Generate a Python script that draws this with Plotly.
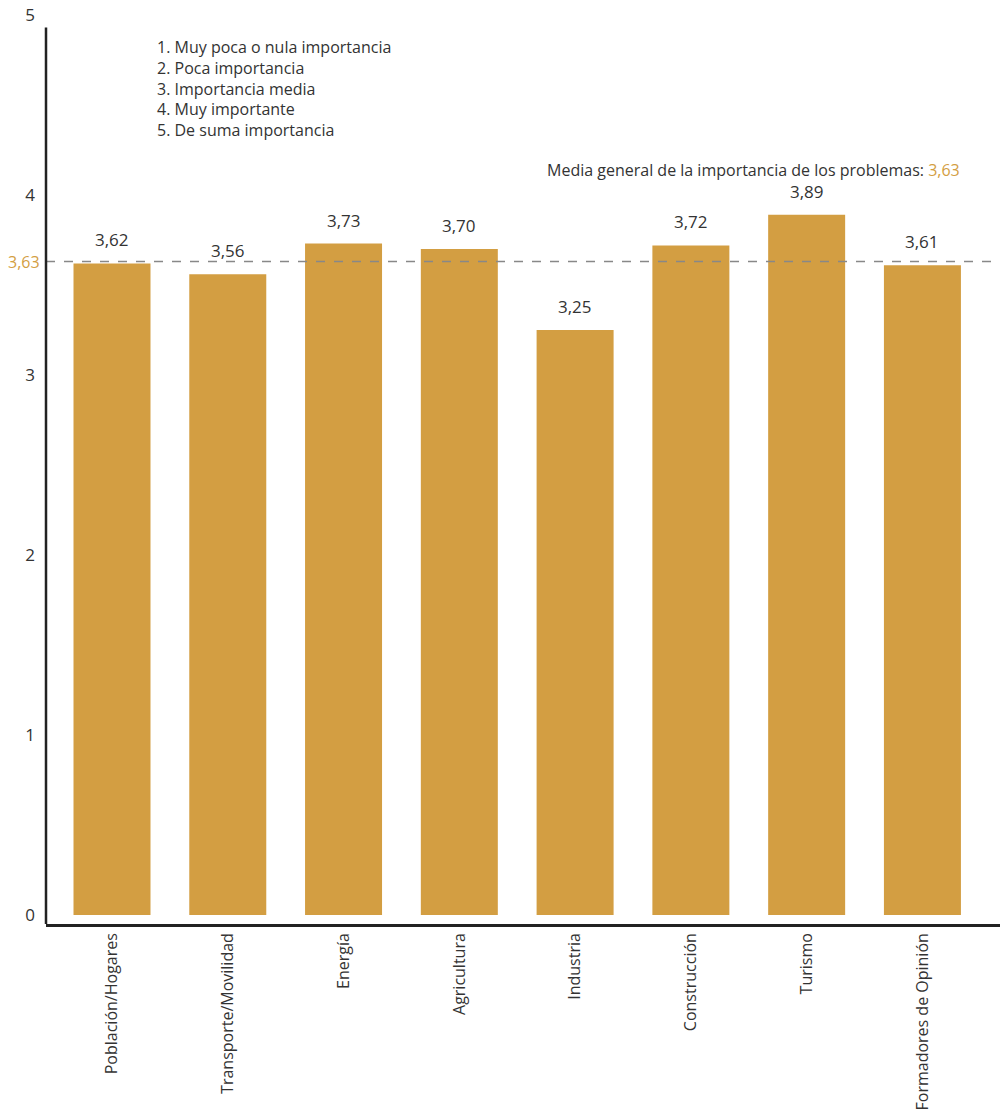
import plotly.graph_objects as go

categories = ["Población/Hogares", "Transporte/Movilidad", "Energía", "Agricultura",
              "Industria", "Construcción", "Turismo", "Formadores de Opinión"]
values = [3.62, 3.56, 3.73, 3.70, 3.25, 3.72, 3.89, 3.61]
value_labels = ["3,62", "3,56", "3,73", "3,70", "3,25", "3,72", "3,89", "3,61"]
mean_value = 3.63
mean_label = "3,63"
scale_items = ["1. Muy poca o nula importancia", "2. Poca importancia", "3. Importancia media",
               "4. Muy importante", "5. De suma importancia"]
mean_title = "Media general de la importancia de los problemas: "
y_ticks = [0, 1, 2, 3, 4, 5]

BAR = "#D39E42"
TXT = "#333333"
FONT = "Open Sans"

W, H = 1000, 1119
L, T, B = 46, 15, 195
PW = W - L

fig = go.Figure()
fig.add_trace(go.Bar(x=list(range(len(categories))), y=values, marker_color=BAR,
                     marker_line_width=0, width=0.665, hoverinfo="skip"))

annotations = []
for i, (v, lab) in enumerate(zip(values, value_labels)):
    annotations.append(dict(x=i, y=v, text=lab, showarrow=False, yanchor="bottom",
                            yshift=10, font=dict(size=17, color=TXT, family=FONT)))

annotations.append(dict(x=(155 - 46) / PW, xref="paper", y=(915 - 88) / 180, yref="y",
                        text="<br>".join(scale_items), showarrow=False, xanchor="left",
                        yanchor="middle", align="left",
                        font=dict(size=16, color=TXT, family=FONT)))

annotations.append(dict(x=(962 - 46) / PW, xref="paper", y=(915 - 170) / 180, yref="y",
                        text=mean_title + f"<span style='color:{BAR}'>{mean_label}</span>",
                        showarrow=False, xanchor="right", yanchor="middle",
                        font=dict(size=16, color=TXT, family=FONT)))
annotations.append(dict(x=0, xref="paper", y=mean_value, yref="y", text=mean_label,
                        showarrow=False, xanchor="right", yanchor="middle", xshift=-4,
                        font=dict(size=16, color=BAR, family=FONT)))

shapes = [
    dict(type="line", xref="paper", x0=0, x1=1, yref="y", y0=mean_value, y1=mean_value,
         line=dict(color="#888888", width=1.5, dash="dash"), layer="above"),
    dict(type="line", xref="paper", x0=0, x1=0, yref="y", y0=-0.05, y1=4.93,
         line=dict(color="#222222", width=2.5)),
]

fig.update_layout(
    width=W, height=H,
    margin=dict(l=L, r=0, t=T, b=B),
    paper_bgcolor="white", plot_bgcolor="white",
    showlegend=False,
    annotations=annotations, shapes=shapes,
    font=dict(family=FONT, size=16, color=TXT),
    xaxis=dict(range=[-0.57, 7.67], tickmode="array", tickvals=list(range(len(categories))),
               ticktext=categories, tickangle=-90, showline=True, linecolor="#222222",
               linewidth=2.5, showgrid=False, zeroline=False, ticks="", automargin=False,
               tickfont=dict(size=16, color=TXT, family=FONT)),
    yaxis=dict(range=[-0.05, 5], tickmode="array", tickvals=y_ticks,
               ticktext=[str(t) for t in y_ticks], showline=False, showgrid=False,
               zeroline=False, ticks="", ticklabelstandoff=10, automargin=False,
               tickfont=dict(size=17, color=TXT, family=FONT)),
)

fig.write_html("out.html", config={"displayModeBar": False},
               post_script="document.body.style.margin='0px';")
